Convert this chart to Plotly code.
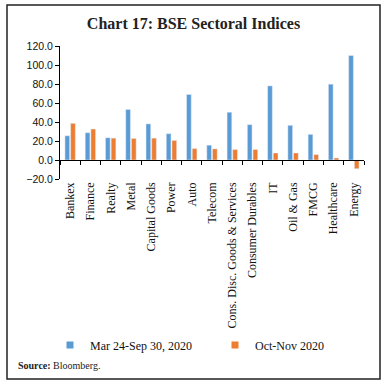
import plotly.graph_objects as go

categories = ["Bankex", "Finance", "Realty", "Metal", "Capital Goods", "Power", "Auto",
              "Telecom", "Cons. Disc. Goods & Services", "Consumer Durables", "IT",
              "Oil & Gas", "FMCG", "Healthcare", "Energy"]
mar_sep_2020 = [25.5, 28.7, 23.4, 53.2, 38.0, 27.7, 69.0, 15.6, 50.3, 37.2, 78.0, 36.5, 27.0, 79.8, 110.0]
oct_nov_2020 = [38.6, 32.6, 23.0, 22.7, 23.0, 20.6, 12.0, 11.7, 11.0, 11.0, 7.4, 7.4, 5.7, 2.1, -9.2]
y_ticks = [-20, 0, 20, 40, 60, 80, 100, 120]

name1 = "Mar 24-Sep 30, 2020"
name2 = "Oct-Nov 2020"
blue = "#5B9BD5"
orange = "#ED7D31"

W, H = 387, 385
L, R, T, B = 60, 23, 46, 206
ph = H - T - B
pw = W - L - R
ymin, ymax = -20, 120

def px_x(p):
    return (p - L) / pw

def px_y(p):
    return (H - B - p) / ph

fig = go.Figure()
fig.add_trace(go.Bar(x=categories, y=mar_sep_2020, name=name1, marker_color=blue,
                     showlegend=False, legendgroup="a"))
fig.add_trace(go.Bar(x=categories, y=oct_nov_2020, name=name2, marker_color=orange,
                     showlegend=False, legendgroup="b"))
# legend entries with small square symbols
fig.add_trace(go.Scatter(x=[None], y=[None], mode="markers", name=name1, legendgroup="a",
                         marker=dict(symbol="square", size=7, color=blue)))
fig.add_trace(go.Scatter(x=[None], y=[None], mode="markers", name=name2, legendgroup="b",
                         marker=dict(symbol="square", size=7, color=orange)))
# helper trace for the category axis drawn at y = 0
fig.add_trace(go.Scatter(x=categories, y=[0] * len(categories), xaxis="x2", mode="markers",
                         marker=dict(opacity=0), hoverinfo="skip", showlegend=False))

fig.update_layout(
    width=W, height=H,
    margin=dict(l=L, r=R, t=T, b=B),
    paper_bgcolor="white", plot_bgcolor="white",
    barmode="group", bargap=0.44, bargroupgap=0.17,
    title=dict(text="<b>Chart 17: BSE Sectoral Indices</b>", x=0.5, xanchor="center",
               y=1 - 23 / H, yanchor="middle",
               font=dict(family="Liberation Serif", size=16, color="#222222")),
    xaxis=dict(type="category", range=[-0.5, len(categories) - 0.5], showline=False,
               ticks="", tickangle=-90, showgrid=False, zeroline=False,
               tickfont=dict(family="Liberation Serif", size=12, color="#111111")),
    xaxis2=dict(type="category", overlaying="x", anchor="free",
                position=(0 - ymin) / (ymax - ymin),
                range=[-0.5, len(categories) - 0.5], showline=True, linecolor="black",
                linewidth=1, ticks="outside", tickson="boundaries", ticklen=4,
                tickcolor="black", showticklabels=False, showgrid=False, zeroline=False),
    yaxis=dict(range=[ymin, ymax], tickvals=y_ticks, tickformat=".1f", showline=True,
               linecolor="black", linewidth=1, ticks="outside", ticklen=4,
               tickcolor="black", showgrid=False, zeroline=False,
               tickfont=dict(family="Liberation Sans", size=10.5, color="#111111")),
    legend=dict(orientation="h", x=px_x(50), xanchor="left", y=px_y(345), yanchor="middle",
                font=dict(family="Liberation Serif", size=12, color="#111111"),
                entrywidth=120, itemwidth=30, bgcolor="rgba(0,0,0,0)"),
    shapes=[dict(type="rect", xref="paper", yref="paper",
                 x0=px_x(7), x1=px_x(380), y0=px_y(379), y1=px_y(5),
                 line=dict(color="#222222", width=1.5), fillcolor="rgba(0,0,0,0)", layer="above")],
    annotations=[dict(text="<b>Source:</b> Bloomberg.", xref="paper", yref="paper",
                      x=px_x(16), xanchor="left", y=px_y(365), yanchor="middle",
                      showarrow=False,
                      font=dict(family="Liberation Serif", size=10, color="#222222"))],
)

fig.write_html("out.html", config={"displayModeBar": False},
               post_script="document.body.style.margin='0';")
